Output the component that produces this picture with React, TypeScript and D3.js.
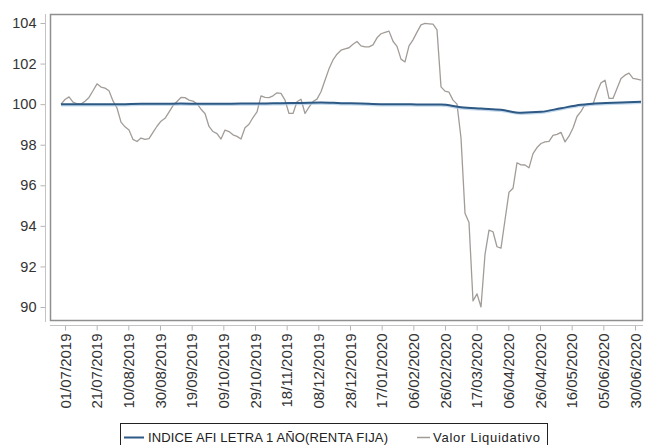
import { useEffect, useRef } from "react";
import * as d3 from "d3";

const tickLabels = [
  "01/07/2019", "21/07/2019", "10/08/2019", "30/08/2019", "19/09/2019",
  "09/10/2019", "29/10/2019", "18/11/2019", "08/12/2019", "28/12/2019",
  "17/01/2020", "06/02/2020", "26/02/2020", "17/03/2020", "06/04/2020",
  "26/04/2020", "16/05/2020", "05/06/2020", "30/06/2020",
];
const yTicks = [90, 92, 94, 96, 98, 100, 102, 104];

// Valor Liquidativo at regular steps
const valorLiquidativo = [
  100.0, 100.23, 100.36, 100.1, 100.02, 100.0, 100.14, 100.33, 100.66, 101.0,
  100.84, 100.79, 100.66, 100.16, 99.81, 99.11, 98.88, 98.72, 98.26, 98.16,
  98.33, 98.26, 98.3, 98.61, 98.91, 99.16, 99.3, 99.61, 99.93, 100.13,
  100.33, 100.32, 100.2, 100.15, 100.02, 99.75, 99.54, 98.9, 98.65, 98.55,
  98.28, 98.72, 98.65, 98.49, 98.41, 98.28, 98.84, 99.01, 99.34, 99.62,
  100.41, 100.33, 100.32, 100.41, 100.56, 100.53, 100.2, 99.54, 99.54, 100.12,
  100.24, 99.54, 99.85, 100.13, 100.25, 100.61, 101.18, 101.74, 102.18, 102.46,
  102.66, 102.73, 102.78, 102.95, 103.09, 102.87, 102.82, 102.82, 102.92, 103.27,
  103.47, 103.54, 103.6, 103.1, 102.85, 102.22, 102.08, 102.87, 103.17, 103.55,
  103.91, 103.98, 103.96, 103.94, 103.66, 100.85, 100.64, 100.59, 100.2, 100.0,
  98.33, 94.62, 94.17, 90.3, 90.65, 90.0, 92.59, 93.79, 93.71, 92.97,
  92.9, 94.29, 95.66, 95.85, 97.11, 97.01, 97.0, 96.86, 97.56, 97.86,
  98.06, 98.14, 98.16, 98.46, 98.51, 98.61, 98.14, 98.42, 98.82, 99.39,
  99.64, 99.99, 100.0, 100.0, 100.59, 101.05, 101.18, 100.28, 100.28, 100.77,
  101.26, 101.43, 101.53, 101.27, 101.23, 101.18,
];

// INDICE AFI LETRA 1 AÑO (RENTA FIJA)
const indiceAfi = [
  100.0, 100.0, 100.0, 100.0, 100.02, 100.02, 100.03, 100.02, 100.02, 100.03,
  100.03, 100.05, 100.06, 100.08, 100.05, 100.03, 100.0, 100.0, 99.98, 99.98,
  99.85, 99.78, 99.72, 99.58, 99.62, 99.8, 99.97, 100.05, 100.08, 100.12,
];

const FONT = "'Liberation Sans', Arial, sans-serif";

export default function App() {
  const ref = useRef<SVGSVGElement>(null);

  useEffect(() => {
    if (!ref.current) return;
    const svg = d3.select(ref.current);
    svg.selectAll("*").remove();

    const left = 50;
    const top = 14;
    const right = 642;
    const bottom = 320;

    const y = d3.scaleLinear().domain([90, 104]).range([307, 23]);
    const xTick = d3.scalePoint<string>().domain(tickLabels).range([65, 635]);
    const xVal = d3
      .scaleLinear()
      .domain([0, valorLiquidativo.length - 1])
      .range([61, 641]);
    const xIdx = d3
      .scaleLinear()
      .domain([0, indiceAfi.length - 1])
      .range([61, 641]);

    svg.append("rect").attr("width", 648).attr("height", 445).attr("fill", "#fff");

    // plot frame
    svg
      .append("rect")
      .attr("x", left + 0.5)
      .attr("y", top + 0.5)
      .attr("width", right - left)
      .attr("height", bottom - top)
      .attr("fill", "none")
      .attr("stroke", "#8f8f8f")
      .attr("stroke-width", 1.5);

    // y axis
    const yAxis = svg
      .append("g")
      .attr("transform", "translate(45.5,0)")
      .call(d3.axisLeft(y).tickValues(yTicks).tickSize(5).tickPadding(4).tickFormat(d3.format("d")));
    yAxis.select(".domain").remove();
    yAxis.selectAll("line").attr("stroke", "#b5b5b5");
    yAxis
      .selectAll("text")
      .style("font-family", FONT)
      .style("font-size", "14.5px")
      .attr("fill", "#333");
    svg
      .append("line")
      .attr("x1", 45.5)
      .attr("x2", 45.5)
      .attr("y1", top)
      .attr("y2", bottom + 2)
      .attr("stroke", "#c4c4c4");

    // x axis
    const xAxis = svg
      .append("g")
      .attr("transform", "translate(0,325.5)")
      .call(d3.axisBottom(xTick).tickSize(5).tickSizeOuter(0));
    xAxis.select(".domain").remove();
    xAxis.selectAll("line").attr("stroke", "#b5b5b5");
    xAxis
      .selectAll("text")
      .attr("transform", "rotate(-90)")
      .attr("text-anchor", "end")
      .attr("x", -8)
      .attr("y", 0)
      .attr("dy", "0.35em")
      .style("font-family", FONT)
      .style("font-size", "15px")
      .attr("fill", "#333");
    svg
      .append("line")
      .attr("x1", left)
      .attr("x2", right + 1)
      .attr("y1", 325.5)
      .attr("y2", 325.5)
      .attr("stroke", "#c4c4c4");

    // Valor Liquidativo
    const lineVal = d3
      .line<number>()
      .x((_, i) => xVal(i))
      .y((d) => y(d));
    svg
      .append("path")
      .datum(valorLiquidativo)
      .attr("d", lineVal)
      .attr("fill", "none")
      .attr("stroke", "#a29c98")
      .attr("stroke-width", 1.3)
      .attr("stroke-linejoin", "round");

    // Indice
    const lineIdx = d3
      .line<number>()
      .x((_, i) => xIdx(i))
      .y((d) => y(d))
      .curve(d3.curveMonotoneX);
    svg
      .append("path")
      .datum(indiceAfi)
      .attr("d", lineIdx)
      .attr("transform", "translate(0,1)")
      .attr("fill", "none")
      .attr("stroke", "#a9c9e6")
      .attr("stroke-width", 2.5)
      .attr("opacity", 0.7);
    svg
      .append("path")
      .datum(indiceAfi)
      .attr("d", lineIdx)
      .attr("fill", "none")
      .attr("stroke", "#2d5984")
      .attr("stroke-width", 2);

    // legend
    const legend = svg.append("g");
    legend
      .append("rect")
      .attr("x", 120.5)
      .attr("y", 423.5)
      .attr("width", 427)
      .attr("height", 30)
      .attr("fill", "#fff")
      .attr("stroke", "#222");
    legend
      .append("line")
      .attr("x1", 124)
      .attr("x2", 144)
      .attr("y1", 437.5)
      .attr("y2", 437.5)
      .attr("stroke", "#2d5984")
      .attr("stroke-width", 2);
    legend
      .append("text")
      .attr("x", 148)
      .attr("y", 442)
      .attr("textLength", 240)
      .style("font-family", FONT)
      .style("font-size", "13px")
      .attr("fill", "#222")
      .text("INDICE AFI LETRA 1 AÑO(RENTA FIJA)");
    legend
      .append("line")
      .attr("x1", 417)
      .attr("x2", 430)
      .attr("y1", 437.5)
      .attr("y2", 437.5)
      .attr("stroke", "#a29c98")
      .attr("stroke-width", 1.5);
    legend
      .append("text")
      .attr("x", 433)
      .attr("y", 442)
      .attr("textLength", 107)
      .style("font-family", FONT)
      .style("font-size", "13px")
      .attr("fill", "#222")
      .text("Valor Liquidativo");
  }, []);

  return (
    <svg
      ref={ref}
      width={648}
      height={445}
      style={{ position: "absolute", left: 0, top: 0, display: "block" }}
    />
  );
}
